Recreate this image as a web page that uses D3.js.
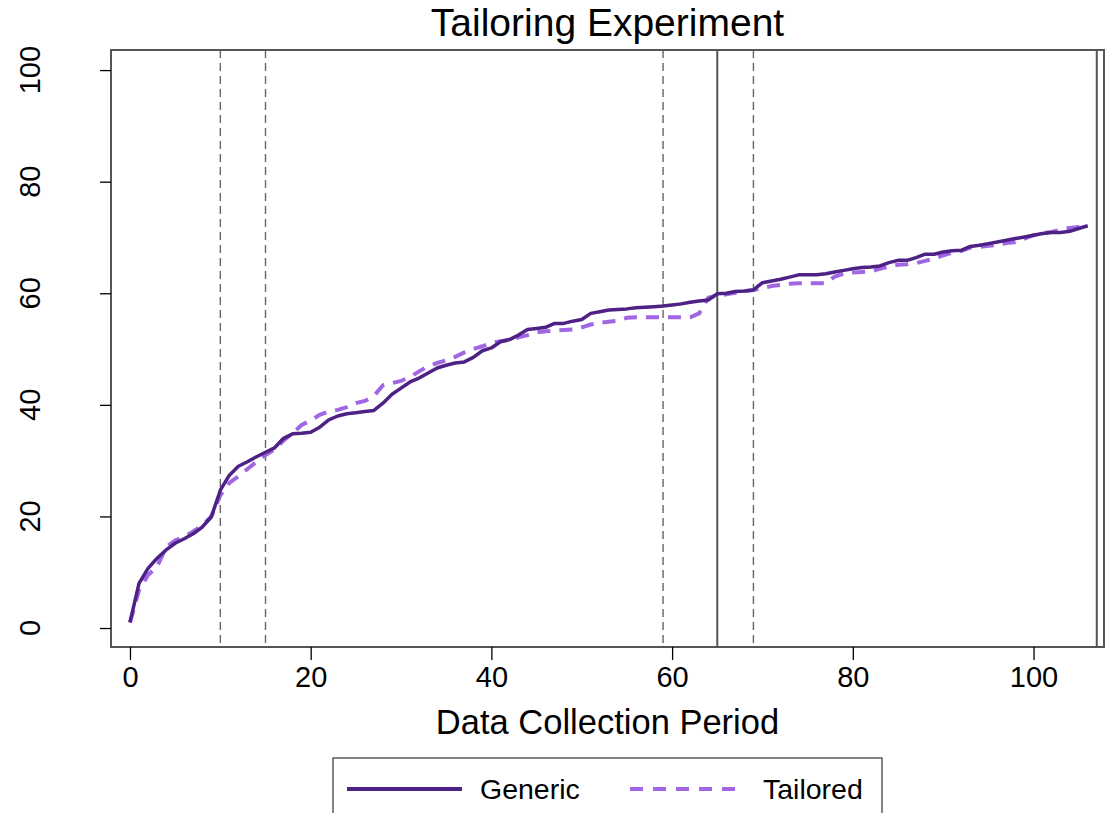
<!DOCTYPE html>
<html lang="en">
<head>
    <title>Tailoring Experiment</title>
    <meta charset="utf-8">
    <script src="https://d3js.org/d3.v7.min.js"></script>
</head>
<style>
body { margin: 0; background: white; }
text { font-family: "Liberation Sans", Arial, sans-serif; fill: black; }
</style>
<body>
<div id="chart"></div>
</body>
<script>
// data collection periods 0..106
var generic = [1, 8, 10.7, 12.5, 14, 15.2, 16, 16.9, 18.1, 19.9,
  24.7, 27.4, 29, 29.8, 30.7, 31.5, 32.3, 34, 34.8, 34.9,
  35.1, 36, 37.3, 38, 38.4, 38.6, 38.8, 39, 40.3, 41.9,
  43, 44.1, 44.8, 45.7, 46.6, 47.1, 47.5, 47.7, 48.5, 49.7,
  50.2, 51.3, 51.7, 52.5, 53.5, 53.7, 53.9, 54.6, 54.6, 55,
  55.3, 56.4, 56.7, 57, 57.1, 57.2, 57.4, 57.5, 57.6, 57.7,
  57.9, 58.1, 58.4, 58.6, 58.8, 59.9, 60, 60.3, 60.4, 60.6,
  61.9, 62.2, 62.5, 62.9, 63.3, 63.3, 63.3, 63.5, 63.8, 64.1,
  64.4, 64.6, 64.7, 64.9, 65.5, 65.9, 65.9, 66.4, 67, 67,
  67.4, 67.6, 67.7, 68.4, 68.6, 68.9, 69.2, 69.5, 69.8, 70.1,
  70.4, 70.7, 70.9, 70.9, 71.1, 71.6, 72.1];

var tailored = [1, 6.8, 9.5, 11, 14.5, 15.7, 16.4, 17.3, 18.4, 20,
  23.8, 26, 27.2, 28.5, 29.8, 31, 32, 33.6, 34.9, 36.4,
  37.2, 38.2, 38.8, 39.1, 39.6, 40.3, 40.7, 41.6, 43.5, 43.9,
  44.3, 45, 46, 46.9, 47.5, 48, 48.6, 49.4, 50, 50.5,
  51.1, 51.4, 51.6, 52.1, 52.5, 53, 53.2, 53.3, 53.4, 53.5,
  53.9, 54.4, 54.7, 54.9, 55.1, 55.6, 55.7, 55.7, 55.7, 55.7,
  55.7, 55.7, 55.7, 56.4, 59.2, 59.6, 59.8, 60.1, 60.4, 60.6,
  60.9, 61.3, 61.5, 61.7, 61.8, 61.8, 61.8, 61.8, 63, 63.5,
  63.7, 63.8, 63.9, 64.4, 64.8, 65.1, 65.2, 65.4, 65.8, 66.2,
  66.8, 67.3, 67.6, 68.2, 68.3, 68.5, 68.7, 69, 69.2, 69.8,
  70.4, 70.8, 71, 71.4, 71.7, 71.9, 72.1];

var dashedLines = [10, 15, 59, 69];
var solidLines = [65, 107];
var xTicks = [0, 20, 40, 60, 80, 100];
var yTicks = [0, 20, 40, 60, 80, 100];

var width = 1108, height = 813;
var plot = {left: 111, right: 1104, top: 50, bottom: 647};

var svg = d3.select("#chart")
  .append("svg")
  .attr("width", width)
  .attr("height", height);

var x = d3.scaleLinear()
  .domain([-2.1, 107.8])
  .range([plot.left, plot.right]);

var y = d3.scaleLinear()
  .domain([-3.4, 103.6])
  .range([plot.bottom, plot.top]);

// title
svg.append("text")
  .attr("x", (plot.left + plot.right) / 2)
  .attr("y", 36)
  .attr("text-anchor", "middle")
  .style("font-size", "39px")
  .text("Tailoring Experiment");

// reference lines
svg.append("g")
  .selectAll("line")
  .data(dashedLines)
  .enter()
  .append("line")
    .attr("x1", function(d) { return x(d); })
    .attr("x2", function(d) { return x(d); })
    .attr("y1", plot.top)
    .attr("y2", plot.bottom)
    .attr("stroke", "#666666")
    .attr("stroke-width", 1.4)
    .attr("stroke-dasharray", "8,5");

svg.append("g")
  .selectAll("line")
  .data(solidLines)
  .enter()
  .append("line")
    .attr("x1", function(d) { return x(d); })
    .attr("x2", function(d) { return x(d); })
    .attr("y1", plot.top)
    .attr("y2", plot.bottom)
    .attr("stroke", "#555555")
    .attr("stroke-width", 2);

// lines
var line = d3.line()
  .x(function(d, i) { return x(i); })
  .y(function(d) { return y(d); });

svg.append("path")
  .datum(tailored)
  .attr("fill", "none")
  .attr("stroke", "#a066e3")
  .attr("stroke-width", 4)
  .attr("stroke-dasharray", "13,9")
  .attr("d", line);

svg.append("path")
  .datum(generic)
  .attr("fill", "none")
  .attr("stroke", "#4e2184")
  .attr("stroke-width", 3.5)
  .attr("stroke-linejoin", "round")
  .attr("d", line);

// frame
svg.append("rect")
  .attr("x", plot.left)
  .attr("y", plot.top)
  .attr("width", plot.right - plot.left)
  .attr("height", plot.bottom - plot.top)
  .attr("fill", "none")
  .attr("stroke", "#555555")
  .attr("stroke-width", 2);

// axes
var xAxis = svg.append("g")
  .attr("transform", "translate(0," + plot.bottom + ")")
  .call(d3.axisBottom(x).tickValues(xTicks).tickSize(13).tickPadding(6));
xAxis.select(".domain").remove();
xAxis.selectAll("line").attr("stroke", "black").attr("stroke-width", 1.3);
xAxis.selectAll("text")
  .style("font-family", "'Liberation Sans', Arial, sans-serif")
  .style("font-size", "29px");

var yAxis = svg.append("g")
  .attr("transform", "translate(" + plot.left + ",0)")
  .call(d3.axisLeft(y).tickValues(yTicks).tickSize(11).tickFormat(""));
yAxis.select(".domain").remove();
yAxis.selectAll("line").attr("stroke", "black").attr("stroke-width", 1.3);

svg.append("g")
  .selectAll("text")
  .data(yTicks)
  .enter()
  .append("text")
    .attr("transform", function(d) { return "translate(40," + y(d) + ") rotate(-90)"; })
    .attr("text-anchor", "middle")
    .style("font-size", "29px")
    .text(function(d) { return d; });

// x label
svg.append("text")
  .attr("x", (plot.left + plot.right) / 2)
  .attr("y", 734)
  .attr("text-anchor", "middle")
  .style("font-size", "34.5px")
  .text("Data Collection Period");

// legend
var legend = svg.append("g");
legend.append("rect")
  .attr("x", 333)
  .attr("y", 758)
  .attr("width", 549)
  .attr("height", 70)
  .attr("fill", "white")
  .attr("stroke", "#333333")
  .attr("stroke-width", 1.2);

var legendItems = [
  {name: "Generic", color: "#4e2184", dash: null, x: 347},
  {name: "Tailored", color: "#a066e3", dash: "13,10", x: 630}
];

legendItems.forEach(function(item) {
  legend.append("line")
    .attr("x1", item.x)
    .attr("x2", item.x + 115)
    .attr("y1", 789)
    .attr("y2", 789)
    .attr("stroke", item.color)
    .attr("stroke-width", 4)
    .attr("stroke-dasharray", item.dash);
  legend.append("text")
    .attr("x", item.x + 133)
    .attr("y", 799)
    .style("font-size", "28.5px")
    .text(item.name);
});
</script>
</html>
